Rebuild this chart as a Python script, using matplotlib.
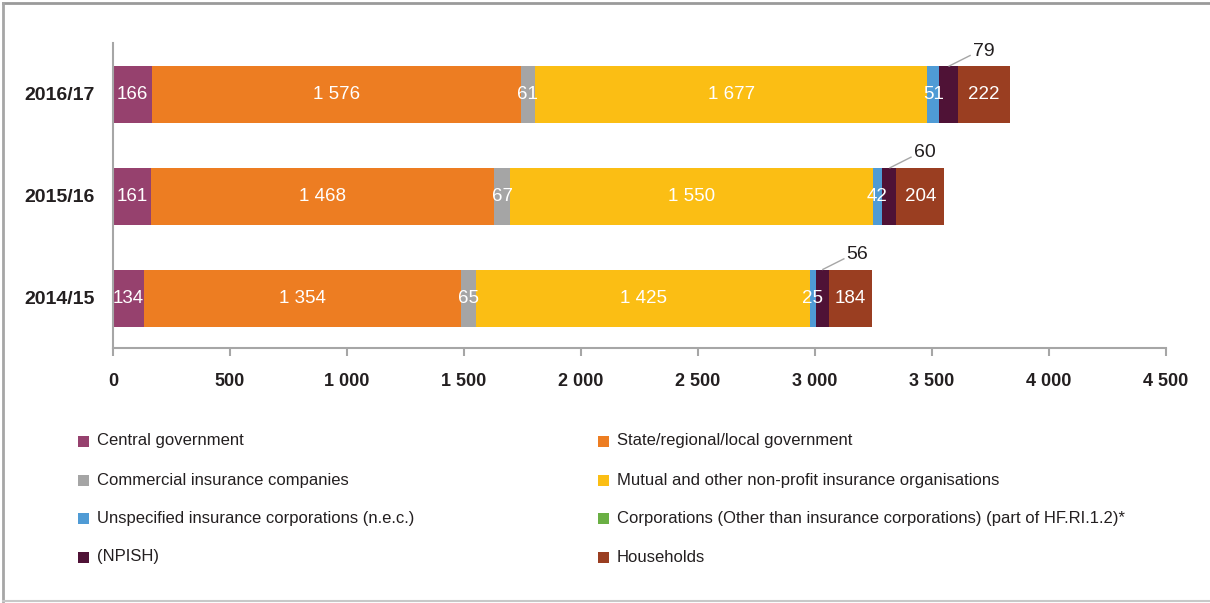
import matplotlib
matplotlib.use('Agg')
import matplotlib.pyplot as plt
from matplotlib.patches import Rectangle
from matplotlib.lines import Line2D
import numpy as np

plt.rcParams['font.family'] = ['Liberation Sans', 'DejaVu Sans']

years = ['2014/15', '2015/16', '2016/17']
series_names = [
    'Central government',
    'State/regional/local government',
    'Commercial insurance companies',
    'Mutual and other non-profit insurance organisations',
    'Unspecified insurance corporations (n.e.c.)',
    'Corporations (Other than insurance corporations) (part of HF.RI.1.2)*',
    '(NPISH)',
    'Households',
]
central = [134, 161, 166]
state = [1354, 1468, 1576]
commercial = [65, 67, 61]
mutual = [1425, 1550, 1677]
unspecified = [25, 42, 51]
corporations = [0, 0, 0]
npish = [56, 60, 79]
households = [184, 204, 222]
x_ticks = [0, 500, 1000, 1500, 2000, 2500, 3000, 3500, 4000, 4500]

colors = ['#96416E', '#ED7D22', '#A5A5A5', '#FBBE14', '#4F9BD5', '#6AAF44', '#4F1236', '#9A3E21']
all_series = [central, state, commercial, mutual, unspecified, corporations, npish, households]

W, H = 1210, 603
fig = plt.figure(figsize=(W / 100, H / 100), dpi=100)
ax = fig.add_axes([113 / W, 1 - 348 / H, (1166 - 113) / W, (348 - 43) / H])

ypos = np.arange(len(years))
left = np.zeros(len(years))
bar_h = 0.56
grey = '#A6A6A6'
for i, (vals, col) in enumerate(zip(all_series, colors)):
    vals = np.array(vals, dtype=float)
    ax.barh(ypos - 0.01, vals, left=left, height=bar_h, color=col, linewidth=0)
    for j, v in enumerate(vals):
        if v <= 0:
            continue
        cx = left[j] + v / 2
        lab = f"{int(v):,}".replace(',', ' ')
        if i == 6:  # NPISH: outside with leader line
            tx, ty = cx + 150, ypos[j] + 0.42
            ax.plot([cx, tx - 55], [ypos[j] - 0.01 + bar_h / 2, ty - 0.04], color='#A6A6A6', lw=1.0,
                    solid_capstyle='butt')
            ax.text(tx, ty, lab, ha='center', va='center', fontsize=14, color='#231F20')
        else:
            ax.text(cx, ypos[j] - 0.01, lab, ha='center', va='center', fontsize=13.5, color='white')
    left += vals

ax.set_xlim(0, 4500)
ax.set_ylim(-0.5, 2.5)
ax.set_xticks(x_ticks)
ax.set_xticklabels([f"{v:,}".replace(',', ' ') for v in x_ticks], fontsize=13,
                   fontweight='bold', color='#231F20')
ax.set_yticks(ypos)
ax.set_yticklabels(years, fontsize=14, fontweight='bold', color='#231F20')
ax.tick_params(axis='x', length=6, width=1.5, color=grey, pad=12)
ax.tick_params(axis='y', length=0, pad=13)
for s in ['top', 'right']:
    ax.spines[s].set_visible(False)
for s in ['left', 'bottom']:
    ax.spines[s].set_color(grey)
    ax.spines[s].set_linewidth(1.5)

# legend (manual 2-column layout)
row_y = [441, 480, 518, 557]
col_x = [78, 598]
for i, (name, col) in enumerate(zip(series_names, colors)):
    r, c = i // 2, i % 2
    x0 = col_x[c]
    yc = row_y[r]
    fig.add_artist(Rectangle((x0 / W, 1 - (yc + 5.5) / H), 11 / W, 11 / H,
                             transform=fig.transFigure, color=col, lw=0))
    fig.text((x0 + 19) / W, 1 - yc / H, name, ha='left', va='center',
             fontsize=12, color='#231F20')

# outer border
fig.add_artist(Line2D([2.5 / W, 1], [1 - 2.5 / H, 1 - 2.5 / H], transform=fig.transFigure,
                      color='#9A9A9A', lw=2))
fig.add_artist(Line2D([2.5 / W, 2.5 / W], [1 - 2.5 / H, 1 - 600.5 / H], transform=fig.transFigure,
                      color='#A6A6A6', lw=2))
fig.add_artist(Line2D([2.5 / W, 1], [1 - 600.5 / H, 1 - 600.5 / H], transform=fig.transFigure,
                      color='#C8C8C8', lw=1.5))

fig.savefig('out.png', dpi=100)
